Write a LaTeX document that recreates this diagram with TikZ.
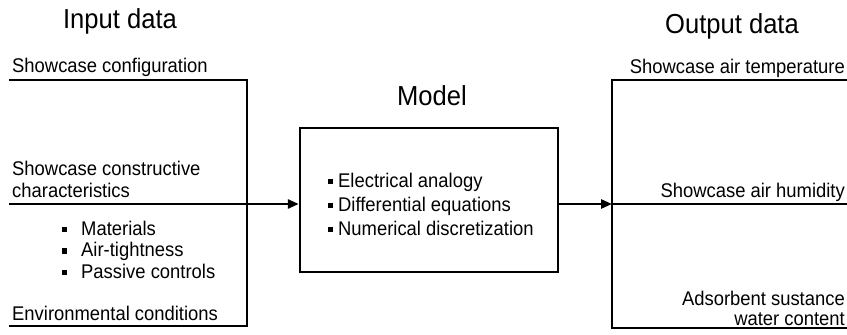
\documentclass[tikz,border=0pt]{standalone}
\usepackage{fontspec}
\setmainfont[FakeStretch=0.93]{Liberation Sans}
\usetikzlibrary{arrows.meta}
\newcommand{\sqbul}{\rule[3pt]{5pt}{5.5pt}}
\begin{document}
\begin{tikzpicture}[x=1pt,y=-1pt,
  wire/.style={line width=2.6pt},
  arr/.style={wire,-{Triangle[length=11pt,width=9pt]}},
  title/.style={font=\fontsize{27.5}{30}\selectfont,inner sep=0pt},
  lbl/.style={font=\fontsize{19.8}{22}\selectfont,inner sep=0pt},
  boxstyle/.style={draw,line width=2.4pt,minimum width=258pt,minimum height=144pt,inner sep=0pt}]
\useasboundingbox (0,0) rectangle (847,335);
% titles
\node[title] (tin) at (120,21) {Input data};
\node[title] (tmod) at (432,96) {Model};
\node[title] (tout) at (732,26) {Output data};
% input labels (base anchor = last line)
\node[lbl,anchor=base west] (l1) at (12,72) {Showcase configuration};
\node[lbl,anchor=base west,align=left,font=\fontsize{19.8}{22}\selectfont] (l2) at (12,197) {Showcase constructive\\characteristics};
\node[lbl,anchor=base west,align=left,font=\fontsize{19.8}{21.5}\selectfont] (l3) at (62,278) {\sqbul\hspace{14pt}Materials\\\sqbul\hspace{14pt}Air-tightness\\\sqbul\hspace{14pt}Passive controls};
\node[lbl,anchor=base west] (l4) at (12,320) {Environmental conditions};
% model box
\node[boxstyle] (model) at (429,200) {};
\node[lbl,anchor=base west,align=left,font=\fontsize{19.8}{24}\selectfont] (mt) at (328,235) {\sqbul\hspace{5pt}Electrical analogy\\\sqbul\hspace{5pt}Differential equations\\\sqbul\hspace{5pt}Numerical discretization};
% output labels
\node[lbl,anchor=base east] (o1) at (845,73) {Showcase air temperature};
\node[lbl,anchor=base east] (o2) at (845,197) {Showcase air humidity};
\node[lbl,anchor=base east,align=right,font=\fontsize{19.8}{20}\selectfont] (o3) at (845,325) {Adsorbent sustance\\water content};
% coordinates of the bracket lines
\coordinate (a1) at (9,80);
\coordinate (a2) at (247,80);
\coordinate (a3) at (247,326);
\coordinate (a4) at (9,326);
\coordinate (ain) at (9,204);
\coordinate (b1) at (847,80);
\coordinate (b2) at (612,80);
\coordinate (b3) at (612,328);
\coordinate (b4) at (847,328);
\coordinate (bmid) at (612,204);
\coordinate (bout) at (847,204);
\draw[wire] (a1) -- (a2) -- (a3) -- (a4);
\draw[arr] (ain) -- (model.west |- ain);
\draw[wire] (b1) -- (b2) -- (b3) -- (b4);
\draw[arr] (model.east |- bmid) -- (bmid);
\draw[wire] (bmid) -- (bout);
\end{tikzpicture}
\end{document}
